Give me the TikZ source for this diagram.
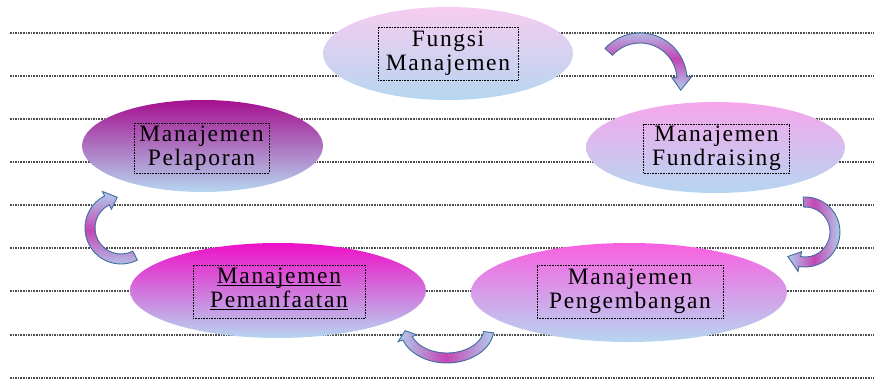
\documentclass[tikz,border=0pt]{standalone}
\usepackage{xcolor}
\usepackage{fontspec}
\setmainfont{Liberation Serif}
\newfontfamily\boxfont[LetterSpace=7]{Liberation Serif}
\usetikzlibrary{shapes.geometric, arrows.meta, positioning, calc}

\definecolor{lightsky}{RGB}{182,214,240}
\definecolor{fungsitop}{RGB}{246,204,240}
\definecolor{fundtop}{RGB}{246,166,236}
\definecolor{laportop}{RGB}{165,16,143}
\definecolor{manfaattop}{RGB}{238,16,200}
\definecolor{kembangtop}{RGB}{248,96,224}
\definecolor{arrowline}{RGB}{62,110,158}
\definecolor{arrowblue}{RGB}{176,206,236}
\definecolor{arrowpink}{RGB}{196,70,180}

% #1 centre, #2 start angle, #3 end angle, #4 x radius, #5 y radius, #6 tip angle, #7 shading angle
\newcommand\bendarrow[7]{%
  \draw[turnarrow, shading angle=#7]
    ($(#1)+(#2:#4+5 and #5+5)$) arc[start angle=#2, end angle=#3, x radius=#4+5, y radius=#5+5]
    -- ($(#1)+(#3:#4+10 and #5+10)$) -- ($(#1)+(#6:#4 and #5)$)
    -- ($(#1)+(#3:#4-10 and #5-10)$) -- ($(#1)+(#3:#4-5 and #5-5)$)
    arc[start angle=#3, end angle=#2, x radius=#4-5, y radius=#5-5] -- cycle;
}
\newcommand\ulword[1]{\underline{\smash{#1}\vphantom{a}}}

\begin{document}
\begin{tikzpicture}[
    x=1pt, y=1pt,
    ruleline/.style={draw=black!70, line width=1.6pt, densely dotted},
    bubble/.style={ellipse, draw=none, inner sep=0pt, bottom color=lightsky},
    txtbox/.style={draw=black, densely dotted, line width=0.6pt, align=center, inner sep=2pt,
        font=\boxfont\fontsize{23.5}{24}\selectfont},
    turnarrow/.style={draw=arrowline, line width=0.9pt, left color=arrowblue,
        right color=arrowblue, middle color=arrowpink}
]
    \useasboundingbox (0,0) rectangle (874,380);

    % Ruled lines
    \foreach \ly in {347,304,261,218,175,132,89,45,2}
        \draw[ruleline] (10,\ly) -- (874,\ly);

    % Bubbles
    \node[bubble, top color=fungsitop, minimum width=250pt, minimum height=93pt] (fungsi) at (448,326.5) {};
    \node[bubble, top color=fundtop, minimum width=259pt, minimum height=91pt] (fund) at (715.5,232.5) {};
    \node[bubble, top color=laportop, minimum width=241pt, minimum height=92pt] (lapor) at (202.5,234) {};
    \node[bubble, top color=manfaattop, minimum width=296pt, minimum height=95pt] (manfaat) at (278,89.5) {};
    \node[bubble, top color=kembangtop, minimum width=316pt, minimum height=99pt] (kembang) at (629,87.5) {};

    % Labels
    \node[txtbox, minimum width=140pt, minimum height=53pt] (fungsi-txt) at (fungsi.center) {Fungsi\\Manajemen};
    \node[txtbox, minimum width=146pt, minimum height=49pt] (fund-txt) at ($(fund.center)+(1,-1)$) {Manajemen\\Fundraising};
    \node[txtbox, minimum width=135pt, minimum height=50pt] (lapor-txt) at ($(lapor.center)+(-1,-2)$) {Manajemen\\Pelaporan};
    \node[txtbox, minimum width=172pt, minimum height=53pt] (manfaat-txt) at ($(manfaat.center)+(1,-1)$) {\ulword{Manajemen}\\\ulword{Pemanfaatan}};
    \node[txtbox, minimum width=186pt, minimum height=53pt] (kembang-txt) at ($(kembang.center)+(1,1)$) {Manajemen\\Pengembangan};

    % Cycle arrows
    \coordinate (turn-a) at (640,300);
    \coordinate (turn-b) at (805,148);
    \coordinate (turn-c) at (447,52);
    \coordinate (turn-d) at (121,152);
    \bendarrow{turn-a}{138}{4}{42}{42}{-14}{0}
    \bendarrow{turn-b}{93}{-100}{30}{30}{-125}{90}
    \bendarrow{turn-c}{-8}{-160}{42}{30}{-175}{90}
    \bendarrow{turn-d}{-63}{-243}{31}{31}{-263}{0}
\end{tikzpicture}
\end{document}
